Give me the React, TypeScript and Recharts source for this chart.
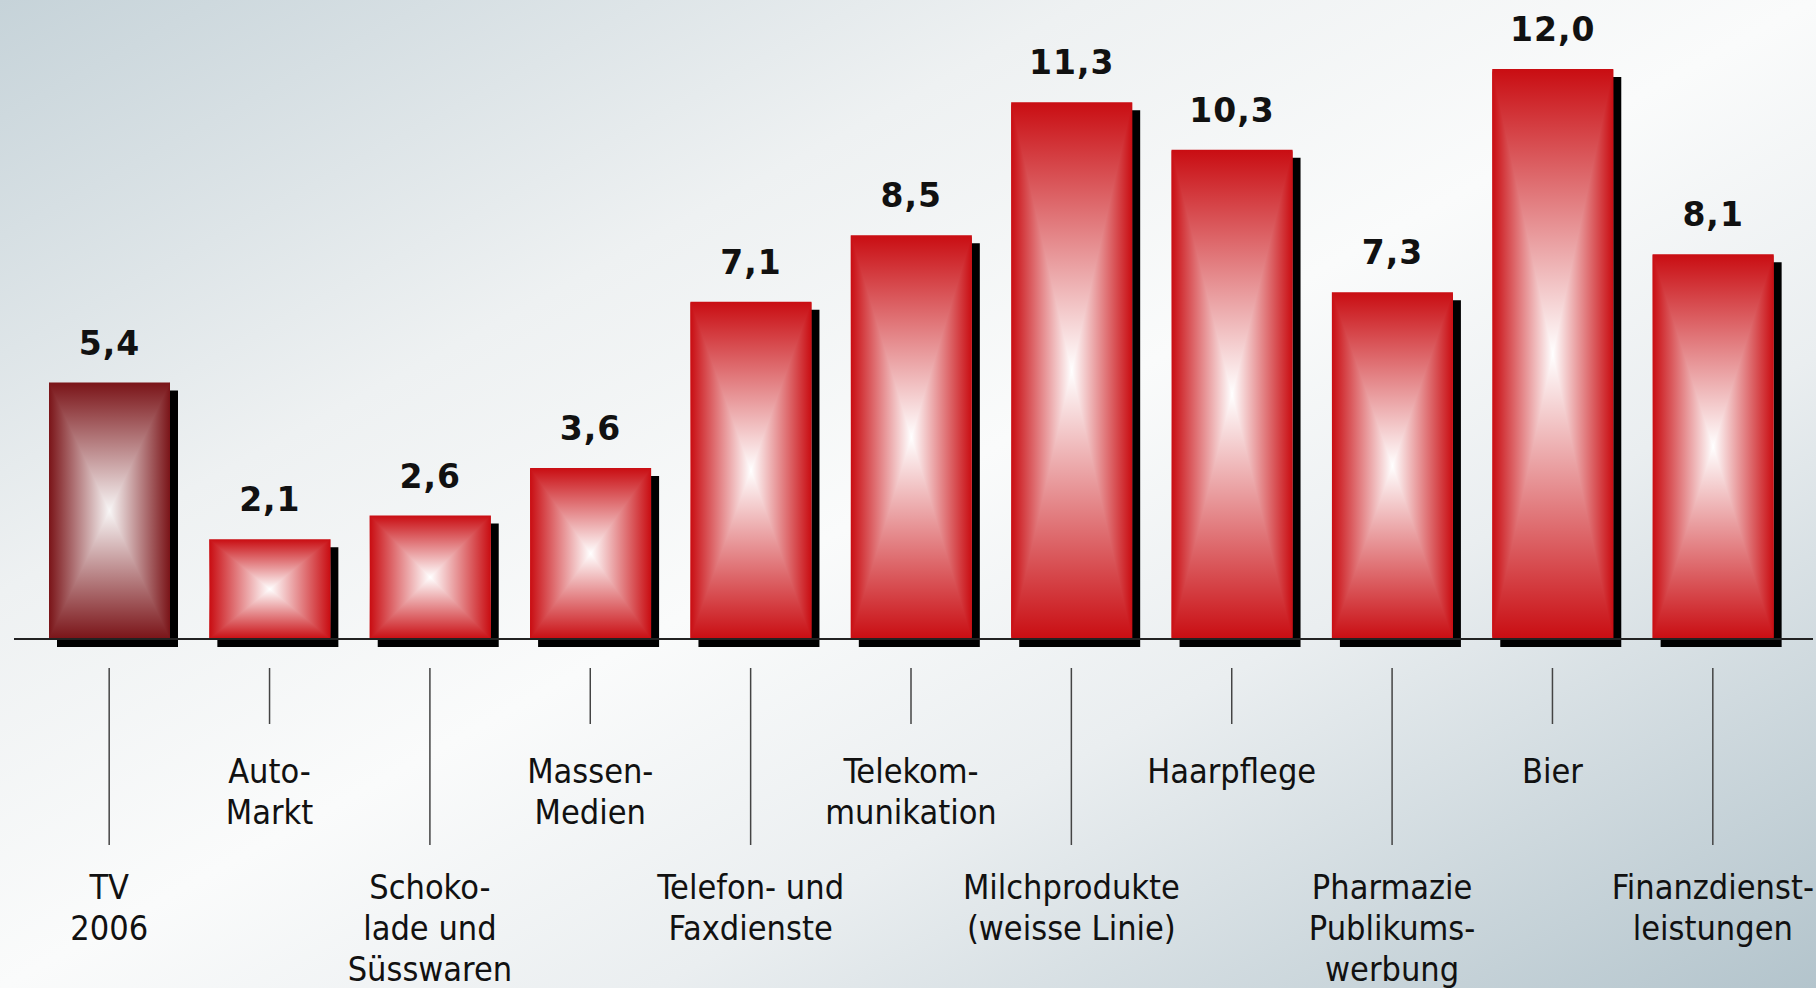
import React from 'react';
import { BarChart, Bar, XAxis, YAxis, LabelList } from 'recharts';

const categories: string[] = [
  'TV\n2006',
  'Auto-\nMarkt',
  'Schoko-\nlade und\nSüsswaren',
  'Massen-\nMedien',
  'Telefon- und\nFaxdienste',
  'Telekom-\nmunikation',
  'Milchprodukte\n(weisse Linie)',
  'Haarpflege',
  'Pharmazie\nPublikums-\nwerbung',
  'Bier',
  'Finanzdienst-\nleistungen',
];
const values: number[] = [5.4, 2.1, 2.6, 3.6, 7.1, 8.5, 11.3, 10.3, 7.3, 12.0, 8.1];
const tones: string[] = ['dark', 'red', 'red', 'red', 'red', 'red', 'red', 'red', 'red', 'red', 'red'];
const labelRows: number[] = [2, 1, 2, 1, 2, 1, 2, 1, 2, 1, 2];

const data = categories.map((name, i) => ({ name, value: values[i], tone: tones[i], row: labelRows[i] }));

const EDGE: Record<string, string> = { red: '#c90d12', dark: '#7a1418' };
const CENTER: Record<string, string> = { red: '#ffffff', dark: '#f8f6f6' };

const BarShape = (props: any) => {
  const { x, y, width: w, height: h, index, payload } = props;
  if (w == null || h == null || h <= 0) return null;
  const tone = (payload && payload.tone) || 'red';
  const edge = EDGE[tone];
  const center = CENTER[tone];
  const cx = x + w / 2;
  const cy = y + h / 2;
  const id = `bar${index}`;
  return (
    <g>
      <defs>
        <linearGradient id={`${id}-v`} x1="0" y1="0" x2="0" y2="1">
          <stop offset="0" stopColor={edge} />
          <stop offset="0.5" stopColor={center} />
          <stop offset="1" stopColor={edge} />
        </linearGradient>
        <linearGradient id={`${id}-l`} x1="0" y1="0" x2="1" y2="0">
          <stop offset="0" stopColor={edge} />
          <stop offset="1" stopColor={center} />
        </linearGradient>
        <linearGradient id={`${id}-r`} x1="1" y1="0" x2="0" y2="0">
          <stop offset="0" stopColor={edge} />
          <stop offset="1" stopColor={center} />
        </linearGradient>
      </defs>
      <rect x={x + 8} y={y + 8} width={w} height={h} fill="#000" />
      <rect x={x} y={y} width={w} height={h} fill={`url(#${id}-v)`} />
      <polygon points={`${x},${y} ${cx},${cy} ${x},${y + h}`} fill={`url(#${id}-l)`} />
      <polygon points={`${x + w},${y} ${cx},${cy} ${x + w},${y + h}`} fill={`url(#${id}-r)`} />
    </g>
  );
};

const CategoryTick = (props: any) => {
  const { x, y, payload } = props;
  const i = payload.index;
  const row = labelRows[i];
  const lines = String(payload.value).split('\n');
  const lineEnd = row === 1 ? 85 : 206;
  const firstBaseline = row === 1 ? 144 : 260;
  return (
    <g>
      <line x1={x} x2={x} y1={y + 29} y2={y + lineEnd} stroke="#444" strokeWidth={1.5} />
      <text
        x={x}
        y={y + firstBaseline}
        textAnchor="middle"
        fontFamily="'DejaVu Sans Condensed', 'DejaVu Sans', Roboto, sans-serif"
        fontSize={34}
        fill="#111"
      >
        {lines.map((l, k) => (
          <tspan key={k} x={x} dy={k === 0 ? 0 : 41}>
            {l}
          </tspan>
        ))}
      </text>
    </g>
  );
};

const ValueLabel = (props: any) => {
  const { x, y, width, value } = props;
  return (
    <text
      x={x + width / 2}
      y={y - 28}
      textAnchor="middle"
      fontFamily="'DejaVu Sans', sans-serif"
      fontWeight="bold"
      fontSize={33}
      letterSpacing={1}
      fill="#111"
    >
      {Number(value).toFixed(1).replace('.', ',')}
    </text>
  );
};

export default function App() {
  return (
    <div
      style={{
        position: 'absolute',
        left: 0,
        top: 0,
        width: 1816,
        height: 988,
        overflow: 'hidden',
        background: 'linear-gradient(to bottom right, #c6d3d9 0%, #eef1f2 30%, #fafbfb 50%, #eaeef0 68%, #b3c4cc 100%)',
      }}
    >
      <BarChart
        width={1816}
        height={988}
        data={data}
        margin={{ top: 21.5, right: 3, bottom: 0, left: 14 }}
      >
        <YAxis hide domain={[0, 13]} type="number" />
        <XAxis
          dataKey="name"
          interval={0}
          height={349}
          padding={{ left: 15, right: 20 }}
          tickLine={false}
          tickSize={0}
          tickMargin={0}
          axisLine={{ stroke: '#222', strokeWidth: 2 }}
          tick={<CategoryTick />}
        />
        <Bar dataKey="value" barSize={121} isAnimationActive={false} shape={(p: any) => <BarShape {...p} />}>
          <LabelList dataKey="value" content={<ValueLabel />} />
        </Bar>
      </BarChart>
    </div>
  );
}
